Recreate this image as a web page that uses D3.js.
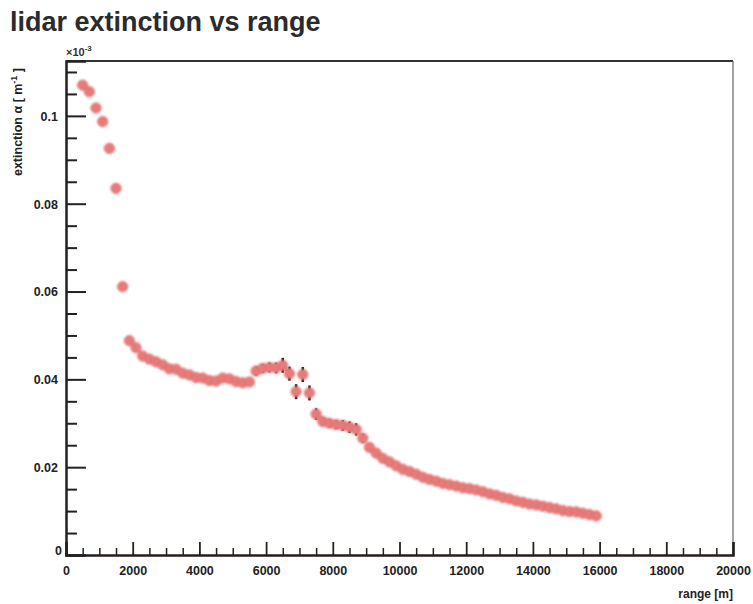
<!DOCTYPE html>
<html>
<head>
<meta charset="utf-8">
<script src="https://cdn.jsdelivr.net/npm/d3@7"></script>
<style>
  body { margin: 0; background: #fff; }
  svg { font-family: "Liberation Sans", Arial, Helvetica, sans-serif; }
  .tick text { font-weight: bold; fill: #222; }
</style>
</head>
<body>
<div id="chart"></div>
<script>
// range in metres (one point every 200 m)
var rangeM = [500, 700, 900, 1100, 1300, 1500, 1700, 1900, 2100, 2300,
  2500, 2700, 2900, 3100, 3300, 3500, 3700, 3900, 4100, 4300, 4500, 4700, 4900, 5100, 5300, 5500,
  5700, 5900, 6100, 6300, 6500, 6700, 6900, 7100, 7300, 7500, 7700, 7900, 8100, 8300, 8500, 8700, 8900, 9100, 9300,
  9500, 9700, 9900, 10100, 10300, 10500, 10700, 10900, 11100, 11300, 11500, 11700, 11900, 12100, 12300, 12500,
  12700, 12900, 13100, 13300, 13500, 13700, 13900, 14100, 14300, 14500, 14700, 14900, 15100, 15300, 15500, 15700, 15900];

// extinction, in units of 1e-3 m^-1
var extinction = [0.1070, 0.1055, 0.1018, 0.0987, 0.0926, 0.0835, 0.0611, 0.0488, 0.0472, 0.0453,
  0.0446, 0.0440, 0.0433, 0.0424, 0.0423, 0.0414, 0.0410, 0.0404, 0.0403, 0.0397, 0.0396, 0.0403, 0.0401, 0.0395, 0.0392, 0.0394,
  0.0419, 0.0425, 0.0427, 0.0426, 0.0432, 0.0413, 0.0372, 0.0411, 0.0369, 0.0321, 0.0304, 0.0300, 0.0297, 0.0295, 0.0291, 0.0286, 0.0266, 0.0245, 0.0232,
  0.0220, 0.0212, 0.0203, 0.0195, 0.0190, 0.0184, 0.0177, 0.0172, 0.0168, 0.0163, 0.0160, 0.0157, 0.0153, 0.0151, 0.0148, 0.0144,
  0.0139, 0.0136, 0.0131, 0.0128, 0.0123, 0.0120, 0.0116, 0.0114, 0.0111, 0.0108, 0.0105, 0.0101, 0.0099, 0.0098, 0.0095, 0.0092, 0.0089];

// error on extinction, same units
var extErr = [0.0004, 0.0004, 0.0004, 0.0004, 0.0004, 0.0004, 0.0004, 0.0004, 0.0004, 0.0004,
  0.0005, 0.0005, 0.0005, 0.0005, 0.0005, 0.0005, 0.0005, 0.0005, 0.0005, 0.0005, 0.0005, 0.0006, 0.0006, 0.0006, 0.0007, 0.0007,
  0.0010, 0.0010, 0.0011, 0.0012, 0.0017, 0.0016, 0.0017, 0.0017, 0.0017, 0.0013, 0.0009, 0.0009, 0.0010, 0.0012, 0.0013, 0.0014, 0.0010, 0.0008, 0.0007,
  0.0006, 0.0005, 0.0005, 0.0005, 0.0005, 0.0005, 0.0005, 0.0005, 0.0005, 0.0005, 0.0005, 0.0005, 0.0005, 0.0005, 0.0005, 0.0005,
  0.0005, 0.0005, 0.0005, 0.0005, 0.0005, 0.0005, 0.0005, 0.0005, 0.0005, 0.0005, 0.0005, 0.0005, 0.0005, 0.0005, 0.0005, 0.0005, 0.0005];

var xMajor = [0, 2000, 4000, 6000, 8000, 10000, 12000, 14000, 16000, 18000, 20000];
var yMajor = [0, 0.02, 0.04, 0.06, 0.08, 0.1];

const w = 753;
const h = 604;
const padL = 66, padR = 733, padT = 61, padB = 555;

var data = rangeM.map(function(r, i) {
  return { r: r, v: extinction[i], e: extErr[i] };
});

const svg = d3.select("#chart").append("svg")
  .attr("width", w)
  .attr("height", h);

// soft edge, the original is a scan
svg.append("defs").append("filter")
  .attr("id", "soft")
  .append("feGaussianBlur")
  .attr("stdDeviation", 0.8);

const xScale = d3.scaleLinear().domain([0, 20000]).range([padL, padR]);
const yScale = d3.scaleLinear().domain([0, 0.1125]).range([padB, padT]);

// title
svg.append("text")
  .attr("x", 10)
  .attr("y", 31)
  .style("font-size", "27px")
  .style("font-weight", "bold")
  .style("fill", "#2b2b2b")
  .text("lidar extinction vs range");

// frame top + right
svg.append("line").attr("x1", padL).attr("x2", padR).attr("y1", padT).attr("y2", padT)
  .attr("stroke", "#333").attr("stroke-width", 2);
svg.append("line").attr("x1", padR).attr("x2", padR).attr("y1", padT).attr("y2", padB)
  .attr("stroke", "#666").attr("stroke-width", 1.2);

// minor ticks (drawn first, major over them)
var xMinor = d3.range(0, 20001, 500).filter(function(d) { return d % 2000 !== 0; });
var yMinor = d3.range(0, 0.1126, 0.005).filter(function(d) { return Math.abs(d / 0.02 - Math.round(d / 0.02)) > 1e-6; });

svg.append("g")
  .attr("transform", "translate(0," + padB + ")")
  .call(d3.axisTop(xScale).tickValues(xMinor).tickSize(7).tickFormat(""))
  .call(function(g) { g.select(".domain").remove(); })
  .selectAll("line").attr("stroke", "#222").attr("stroke-width", 1.5);

svg.append("g")
  .attr("transform", "translate(" + padL + ",0)")
  .call(d3.axisRight(yScale).tickValues(yMinor).tickSize(11).tickFormat(""))
  .call(function(g) { g.select(".domain").remove(); })
  .selectAll("line").attr("stroke", "#222").attr("stroke-width", 2);

// x axis
var xAxis = svg.append("g")
  .attr("transform", "translate(0," + padB + ")")
  .call(d3.axisTop(xScale).tickValues(xMajor).tickSize(13).tickFormat(d3.format("d")));
xAxis.select(".domain").attr("stroke", "#2a1a1a").attr("stroke-width", 2.5);
xAxis.selectAll("line").attr("stroke", "#222").attr("stroke-width", 1.8);
xAxis.selectAll("text")
  .attr("y", 20)
  .attr("dy", "0")
  .style("font-size", "12.5px");

// y axis
var yAxis = svg.append("g")
  .attr("transform", "translate(" + padL + ",0)")
  .call(d3.axisRight(yScale).tickValues(yMajor).tickSize(20)
    .tickFormat(function(d) { return d === 0 ? "0" : String(+d.toFixed(2)); }));
yAxis.select(".domain").attr("stroke", "#222").attr("stroke-width", 2.5);
yAxis.selectAll("line").attr("stroke", "#222").attr("stroke-width", 2);
yAxis.selectAll("text")
  .attr("x", -8)
  .attr("dy", "0.35em")
  .style("text-anchor", "end")
  .style("font-size", "12.5px");
// ROOT puts the y "0" a bit lower-left
yAxis.selectAll("text").filter(function(d) { return d === 0; })
  .attr("x", -4)
  .attr("dy", "-0.05em");

// exponent label
var expo = svg.append("text")
  .attr("x", 66)
  .attr("y", 56)
  .style("font-size", "11px")
  .style("font-weight", "bold")
  .style("fill", "#333");
expo.append("tspan").text("\u00d710");
expo.append("tspan").attr("dy", -5).style("font-size", "8px").text("-3");

// y label
var yl = svg.append("text")
  .attr("transform", "translate(22,122) rotate(-90)")
  .style("text-anchor", "middle")
  .style("font-size", "12.5px")
  .style("font-weight", "bold")
  .style("fill", "#222");
yl.append("tspan").text("extinction \u03b1 [ m");
yl.append("tspan").attr("dy", -5).style("font-size", "9px").text("-1");
yl.append("tspan").attr("dy", 5).text(" ]");

// x label
svg.append("text")
  .attr("x", padR)
  .attr("y", 598)
  .style("text-anchor", "end")
  .style("font-size", "12px")
  .style("font-weight", "bold")
  .style("fill", "#222")
  .text("range [m]");

// error bars (kept sharp, markers go on top)
svg.append("g").selectAll("line")
  .data(data)
  .enter()
  .append("line")
  .attr("x1", function(d) { return xScale(d.r); })
  .attr("x2", function(d) { return xScale(d.r); })
  .attr("y1", function(d) { return yScale(d.v + d.e); })
  .attr("y2", function(d) { return yScale(d.v - d.e); })
  .attr("stroke", "#2e1616")
  .attr("stroke-width", 2.5);

// markers
svg.append("g").attr("filter", "url(#soft)")
  .selectAll("circle")
  .data(data)
  .enter()
  .append("circle")
  .attr("cx", function(d) { return xScale(d.r); })
  .attr("cy", function(d) { return yScale(d.v); })
  .attr("r", 5.1)
  .attr("fill", "#e67b7a")
  .attr("stroke", "#dc6d6d")
  .attr("stroke-width", 1);
</script>
</body>
</html>
